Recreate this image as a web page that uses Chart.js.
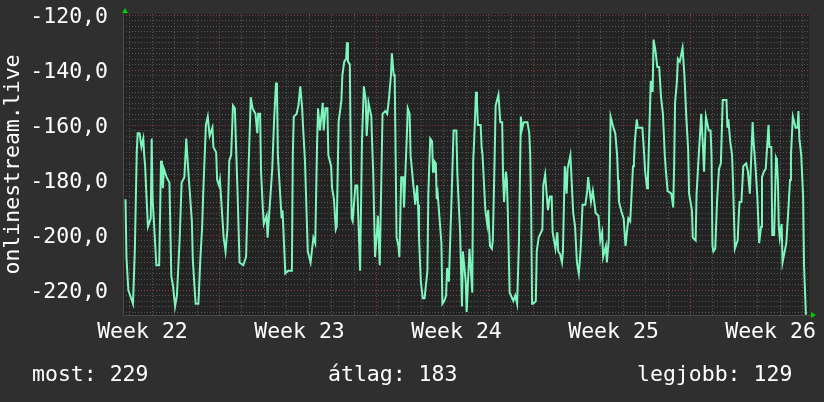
<!doctype html>
<html lang="hu">
<head>
<meta charset="utf-8">
<title>onlinestream.live</title>
<script src="https://cdn.jsdelivr.net/npm/chart.js@4.4.1/dist/chart.umd.min.js"></script>
<style>
  html, body { margin: 0; padding: 0; background: #2f2f2f; }
  canvas { display: block; }
</style>
</head>
<body>
<canvas id="myChart" width="824" height="402"></canvas>
<script>
// hours since the start of week 23 (Monday 00:00)
const hours = [
  -100,-99,-97,-94,-92,-90,-88,-87,-85,-83,-81,-80,-79,-78,-76,-73,-72,-71,-67,-64,
  -62,-61,-60,-59,-56,-53,-51,-49,-47,-45,-42,-40,-37,-35,-33,-29,-28,-25,-22,-20,
  -18,-17,-14,-12,-10,-7,-6,-3,-2,0,1,5,7,9,11,13,15,17,18,20,
  22,26,29,31,34,36,39,41,42,44,45,47,48,51,52,57,59,61,62,63,
  67,68,71,74,78,79,80,83,85,87,89,90,92,95,98,101,103,105,106,108,
  111,112,114,116,117,120,121,123,125,126,128,131,132,134,136,137,138,140,141,142,
  143,146,148,149,151,153,155,157,158,159,160,163,164,165,167,169,170,172,175,178,
  180,182,184,185,187,188,189,190,192,193,195,197,198,201,202,204,205,208,210,212,
  213,214,216,218,220,223,224,226,228,229,230,232,233,234,238,239,241,243,244,246,
  249,251,254,255,256,258,260,261,264,265,268,271,272,273,275,276,277,280,281,282,
  285,287,288,290,292,293,295,296,299,301,303,304,305,307,308,309,311,315,317,319,
  321,323,324,326,330,332,333,334,335,336,339,340,342,346,347,349,351,352,354,356,
  357,360,362,363,365,367,368,370,372,373,376,379,381,383,385,387,389,392,394,395,
  398,400,403,406,408,410,411,414,415,417,419,422,424,426,427,428,431,433,435,438,
  440,443,444,445,447,448,451,453,454,455,456,458,459,462,464,465,467,469,471,473,
  475,477,478,480,484,486,487,488,490,491,493,496,498,500,502,503,506,507,510,511,
  513,516,518,519,521,524,526,527,528,529,531,533,535,537,539,543,544,545,547,549,
  550,552,555,556,557,559,561,564,566,568,569,571,572,574,576,578,580,581,583,585,
  588,589,591,592,594,596,597,598,599,600,602,603,607,609,611,612,614,617,619,620,
  621,623,625,626,628
];

// signal level
const values = [
  -187,-208,-220,-223,-225,-205,-170,-163,-163,-168,-165,-171,-175,-183,-197,-194,-165,-187,-211,-211,
  -173,-177,-183,-176,-179,-181,-215,-219,-226,-222,-201,-181,-179,-165,-176,-195,-209,-225,-225,-209,
  -197,-186,-160,-157,-164,-161,-168,-170,-180,-182,-180,-201,-206,-198,-173,-171,-153,-154,-165,-186,
  -210,-211,-208,-183,-150,-154,-156,-163,-156,-156,-177,-191,-196,-193,-201,-176,-158,-145,-145,-171,
  -194,-191,-214,-213,-213,-171,-157,-156,-153,-146,-154,-161,-173,-206,-210,-201,-203,-166,-154,-162,
  -152,-162,-154,-154,-171,-175,-183,-187,-198,-197,-159,-151,-142,-137,-136,-130,-137,-138,-171,-194,
  -195,-182,-182,-193,-213,-166,-146,-151,-164,-159,-152,-157,-168,-177,-208,-199,-193,-211,-156,-155,
  -156,-150,-142,-134,-142,-142,-171,-201,-204,-208,-179,-179,-190,-164,-154,-156,-171,-182,-189,-182,
  -189,-201,-217,-223,-223,-213,-185,-165,-166,-177,-173,-174,-187,-185,-203,-225,-224,-222,-212,-217,
  -185,-162,-162,-177,-185,-199,-226,-206,-217,-228,-205,-221,-173,-166,-148,-151,-160,-160,-168,-171,
  -191,-196,-191,-204,-205,-202,-171,-153,-149,-159,-159,-179,-188,-177,-180,-191,-221,-224,-222,-225,
  -202,-157,-162,-159,-159,-163,-171,-190,-225,-225,-224,-206,-201,-198,-182,-178,-187,-191,-186,-186,
  -199,-205,-199,-206,-207,-210,-206,-175,-185,-176,-171,-192,-197,-210,-214,-205,-189,-189,-184,-179,
  -188,-184,-192,-193,-202,-199,-208,-204,-210,-202,-157,-161,-163,-171,-180,-188,-192,-194,-204,-194,
  -195,-175,-173,-166,-158,-161,-161,-161,-166,-171,-177,-183,-179,-144,-148,-129,-133,-139,-139,-150,
  -156,-171,-176,-184,-185,-190,-175,-152,-144,-136,-137,-132,-142,-157,-169,-185,-191,-201,-202,-185,
  -173,-156,-169,-177,-157,-162,-162,-171,-204,-206,-205,-187,-176,-174,-151,-151,-161,-158,-166,-171,
  -181,-205,-202,-194,-188,-188,-175,-174,-177,-185,-176,-159,-166,-175,-186,-203,-197,-179,-177,-176,
  -160,-168,-168,-200,-200,-172,-173,-180,-197,-201,-196,-210,-203,-192,-180,-171,-157,-161,-161,-155,
  -165,-171,-186,-211,-229
];

const weekLabels = ['Week 22', 'Week 23', 'Week 24', 'Week 25', 'Week 26'];
const weekCenters = [-84, 84, 252, 420, 588];
const yTicks = [-220, -200, -180, -160, -140, -120];
const legendLabels = ['most', 'átlag', 'legjobb'];
const legendValues = [229, 183, 129];

const FONT = '"DejaVu Sans Mono", "Liberation Mono", monospace';

// background, rrd style grid, arrows and the summary line
const rrdLook = {
  id: 'rrdLook',
  beforeDraw(chart) {
    const c = chart.ctx, a = chart.chartArea;
    c.save();
    c.fillStyle = '#2f2f2f';
    c.fillRect(0, 0, chart.width, chart.height);
    c.fillStyle = '#232323';
    c.fillRect(a.left, a.top, a.right - a.left, a.bottom - a.top);
    c.restore();
  },
  beforeDatasetsDraw(chart) {
    const c = chart.ctx, a = chart.chartArea;
    const xs = chart.scales.x, ys = chart.scales.y;
    c.save();
    c.lineWidth = 1;
    c.setLineDash([1, 2]);
    // horizontal: every 2, red every 20
    for (let v = -228; v <= -120; v += 2) {
      const y = Math.round(ys.getPixelForValue(v)) + 0.5;
      c.strokeStyle = v % 20 === 0 ? '#8a3a3a' : '#555555';
      c.beginPath(); c.moveTo(a.left, y); c.lineTo(a.right, y); c.stroke();
    }
    // vertical: every day, red at week start
    for (let h = -96; h <= xs.max; h += 24) {
      const x = Math.round(xs.getPixelForValue(h)) + 0.5;
      c.strokeStyle = h % 168 === 0 ? '#8a3a3a' : '#555555';
      c.beginPath(); c.moveTo(x, a.top); c.lineTo(x, a.bottom); c.stroke();
    }
    c.setLineDash([]);
    c.strokeStyle = '#4a4a4a';
    c.beginPath();
    c.moveTo(a.left + 0.5, a.top); c.lineTo(a.left + 0.5, a.bottom + 0.5);
    c.lineTo(a.right + 3, a.bottom + 0.5);
    c.stroke();
    c.restore();
  },
  afterDraw(chart) {
    const c = chart.ctx, a = chart.chartArea;
    c.save();
    c.fillStyle = '#00cc00';
    c.beginPath();
    c.moveTo(a.left - 1, a.top - 1); c.lineTo(a.left + 5, a.top - 1); c.lineTo(a.left + 2, a.top - 6);
    c.closePath(); c.fill();
    c.beginPath();
    c.moveTo(a.right + 2, a.bottom - 3); c.lineTo(a.right + 2, a.bottom + 3); c.lineTo(a.right + 7, a.bottom);
    c.closePath(); c.fill();
    c.fillStyle = '#ffffff';
    c.font = '21.5px ' + FONT;
    c.textBaseline = 'alphabetic';
    const lx = [32, 328, 637];
    legendLabels.forEach((t, i) => c.fillText(t + ': ' + legendValues[i], lx[i], 381));
    c.restore();
  }
};

new Chart(document.getElementById('myChart'), {
  type: 'line',
  data: {
    datasets: [{
      data: hours.map((h, i) => ({ x: h, y: values[i] })),
      borderColor: '#7df5bd',
      borderWidth: 2,
      pointRadius: 0,
      tension: 0,
      fill: false
    }]
  },
  options: {
    responsive: false,
    animation: false,
    layout: { padding: { top: 14, right: 15, left: 0, bottom: 0 } },
    plugins: { legend: { display: false }, tooltip: { enabled: false } },
    scales: {
      x: {
        type: 'linear',
        min: -102.7,
        max: 631.3,
        grid: { display: false, drawTicks: false },
        border: { display: false },
        afterBuildTicks: s => { s.ticks = weekCenters.map(v => ({ value: v })); },
        afterFit: s => { s.height = 87; s.paddingLeft = 0; s.paddingRight = 0; },
        ticks: {
          callback: (v, i) => weekLabels[i],
          color: '#ffffff',
          font: { family: FONT, size: 21.5 },
          maxRotation: 0,
          autoSkip: false,
          padding: 5,
          labelOffset: 2
        }
      },
      y: {
        min: -229.1,
        max: -119.7,
        grid: { display: false, drawTicks: false },
        border: { display: false },
        afterBuildTicks: s => { s.ticks = yTicks.map(v => ({ value: v })); },
        afterFit: s => { s.width = 123; s.paddingTop = 0; s.paddingBottom = 0; },
        ticks: {
          callback: v => v.toFixed(1).replace('.', ','),
          color: '#ffffff',
          font: { family: FONT, size: 21.5 },
          padding: 15,
          labelOffset: 2.5
        },
        title: {
          display: true,
          text: 'onlinestream.live',
          color: '#ffffff',
          font: { family: FONT, size: 21.5 },
          padding: { top: 1, bottom: 0 }
        }
      }
    }
  },
  plugins: [rrdLook]
});
</script>
</body>
</html>
